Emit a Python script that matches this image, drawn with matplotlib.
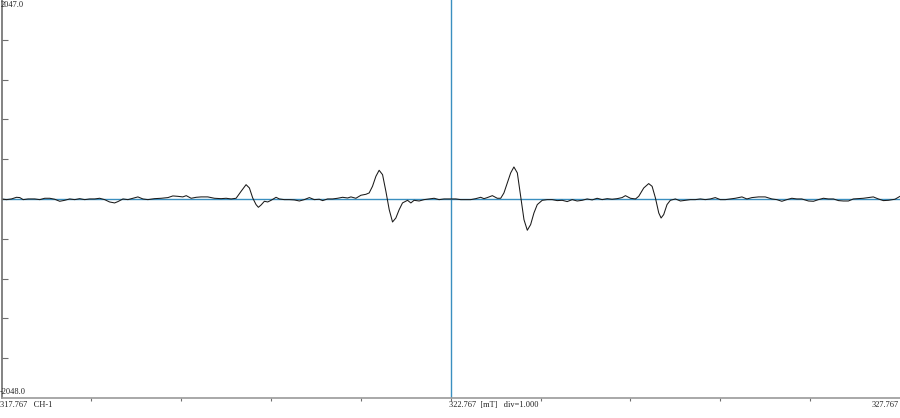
import matplotlib
matplotlib.use("Agg")
import matplotlib.pyplot as plt

# Magnetic field (mT)
field = [
    317.767, 317.823, 317.878, 317.934, 317.971, 318.008, 318.063, 318.137, 318.193, 318.248,
    318.304, 318.359, 318.415, 318.470, 318.526, 318.582, 318.637, 318.693, 318.748, 318.804,
    318.859, 318.915, 318.970, 319.026, 319.063, 319.119, 319.174, 319.230, 319.285, 319.341,
    319.396, 319.470, 319.545, 319.619, 319.674, 319.730, 319.785, 319.823, 319.878, 319.934,
    319.989, 320.063, 320.137, 320.211,
    320.267, 320.323, 320.378, 320.434, 320.489, 320.526, 320.563, 320.600, 320.626, 320.656,
    320.693, 320.730, 320.767, 320.823, 320.859, 320.915, 320.970, 321.026, 321.082, 321.137,
    321.193, 321.248, 321.304, 321.341, 321.396, 321.452, 321.507, 321.563, 321.619, 321.656,
    321.711, 321.767, 321.823, 321.859, 321.896, 321.934, 321.970, 322.008, 322.045, 322.082,
    322.119, 322.156, 322.193, 322.230, 322.286, 322.323, 322.359, 322.415, 322.470, 322.526,
    322.582, 322.637, 322.693,
    322.767, 322.823, 322.878, 322.934, 322.989, 323.045, 323.100, 323.137, 323.174, 323.230,
    323.285, 323.323, 323.359, 323.396, 323.434, 323.470, 323.508, 323.545, 323.582, 323.619,
    323.656, 323.693, 323.730, 323.785, 323.841, 323.896, 323.952, 324.008, 324.063, 324.119,
    324.174, 324.230, 324.285, 324.341, 324.396, 324.452, 324.508, 324.563, 324.619, 324.674,
    324.711, 324.767, 324.823, 324.859, 324.915, 324.970, 325.008, 325.045, 325.082, 325.108,
    325.137, 325.174, 325.211,
    325.267, 325.323, 325.378, 325.434, 325.489, 325.545, 325.600, 325.656, 325.711, 325.767,
    325.823, 325.878, 325.934, 326.008, 326.063, 326.119, 326.193, 326.267, 326.341, 326.396,
    326.452, 326.508, 326.563, 326.619, 326.674, 326.748, 326.804, 326.859, 326.915, 326.970,
    327.026, 327.082, 327.137, 327.193, 327.248, 327.304, 327.359, 327.415, 327.470, 327.526,
    327.582, 327.637, 327.711, 327.767,
]

# Signal intensity (a.u.)
intensity = [
    0, -7, 0, 17, 14, -7, 0, 0, -7, 7,
    7, -3, -24, -14, 0, -7, 3, -7, 0, 0,
    7, -7, -31, -41, -27, 0, -7, 7, 21, 0,
    -7, 3, 7, 14, 31, 27, 21, 34, 7, 17,
    21, 21, 7, 3,
    7, 0, 7, 79, 147, 113, 10, -58, -86, -62,
    -24, -31, -14, 17, 0, -7, -7, -10, -21, -7,
    14, -7, -3, -17, 0, 0, 7, 17, 10, 21,
    7, 38, 48, 62, 130, 233, 295, 250, 79, -110,
    -237, -196, -110, -41, -14, -41, -14, -21, -7, 0,
    7, -7, 0,
    0, 0, -7, -7, -7, 3, 17, 3, 14, 34,
    7, 7, 62, 165, 268, 329, 268, 27, -213, -322,
    -264, -144, -58, -14, -7, -7, -17, -14, -27, -7,
    -21, -14, 0, -10, 7, -7, 3, -3, 3, 14,
    34, 7, 0, 27, 113, 158, 130, 10, -144, -196,
    -161, -58, -14,
    0, -21, -14, -7, -7, 0, -7, 0, 14, -7,
    -7, 0, 7, 21, 0, 14, 21, 21, 0, -7,
    -24, -7, 7, 0, 0, -21, -24, -7, 7, 0,
    0, -17, -21, -21, 0, 3, 7, 14, 21, 0,
    -17, -14, -3, 27,
]

x_min, x_center, x_max = 317.767, 322.767, 327.767
y_min, y_max = -2048.0, 2047.0

W, H = 900, 418
fig = plt.figure(figsize=(W / 100, H / 100), dpi=100)
ax = fig.add_axes([1.5 / W, 20 / H, 1 - 1.5 / W, 1 - 20 / H])
ax.set_xlim(x_min, x_max)
ax.set_ylim(y_min, y_max)

blue = "#3a8fc0"
ax.axhline(0, color=blue, lw=1.0, zorder=1)
ax.axvline(x_center, color=blue, lw=1.0, zorder=1)
ax.plot(field, intensity, color="#1a1a1a", lw=0.75, zorder=2)

for s in ["top", "right"]:
    ax.spines[s].set_visible(False)
ax.spines["left"].set_color("#6e6e6e")
ax.spines["bottom"].set_color("#9a9a9a")
ax.spines["left"].set_linewidth(1.2)
ax.spines["bottom"].set_linewidth(1.2)

ydiv = (y_max - y_min) / 10
ax.set_yticks([y_min + k * ydiv for k in range(1, 10)])
ax.set_xticks([x_min + k for k in range(1, 10)])
ax.tick_params(axis="y", direction="in", length=4.5, width=0.8, color="#6e6e6e",
               labelleft=False)
ax.tick_params(axis="x", direction="out", length=2.5, width=0.8, color="#6e6e6e",
               labelbottom=False)

font = dict(family="Liberation Serif", fontsize=6, color="#222222")
fig.text(1 / W, 1 - 1 / H, "2047.0", ha="left", va="top", **font)
fig.text(0 / W, 1 - 396 / H, "-2048.0", ha="left", va="bottom", **font)
fig.text(0 / W, 1 - 401 / H, "317.767   CH-1", ha="left", va="top", **font)
fig.text(449 / W, 1 - 401 / H, "322.767  [mT]   div=1.000", ha="left", va="top", **font)
fig.text(899 / W, 1 - 401 / H, "327.767", ha="right", va="top", **font)

fig.savefig("out.png", dpi=100)
